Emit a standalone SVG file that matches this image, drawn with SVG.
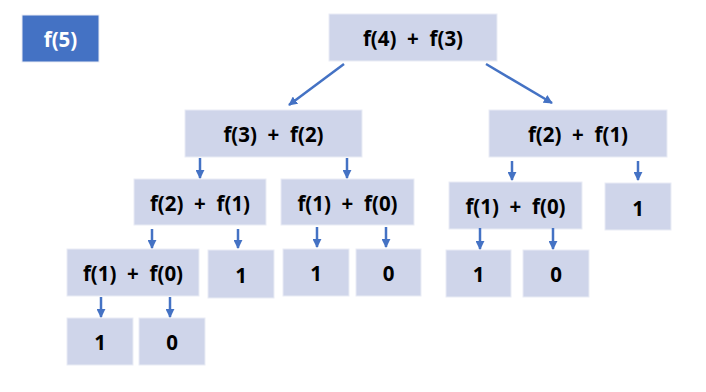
<svg xmlns="http://www.w3.org/2000/svg" width="706" height="392" viewBox="0 0 706 392">
<defs>
<marker id="ah" viewBox="0 0 10 10" refX="9" refY="5" markerUnits="userSpaceOnUse" markerWidth="9" markerHeight="9" orient="auto">
<path d="M0,0 L10,5 L0,10 z" fill="#4472C4"/>
</marker>
<style>
.box{fill:#CFD5EA;stroke:#E9ECF5;stroke-width:1}
.hdr{fill:#4472C4;stroke:#E9ECF5;stroke-width:1}
.t{font-family:"Noto Sans","Open Sans","DejaVu Sans",sans-serif;font-weight:bold;font-size:20.5px;fill:#000;text-anchor:middle;dominant-baseline:central;white-space:pre}
.w{fill:#fff}
.c line{stroke:#4472C4;stroke-width:2.5;marker-end:url(#ah)}
</style>
</defs>
<rect width="706" height="392" fill="#fff"/>
<g id="n-f5"><rect class="hdr" x="22" y="15" width="77" height="47"/><text class="t w" x="60.5" y="39">f(5)</text></g>
<g id="n-root"><rect class="box" x="329" y="14" width="168" height="47"/><text class="t" x="413" y="38">f(4)  +  f(3)</text></g>
<g id="n-f3f2"><rect class="box" x="185" y="110" width="177" height="47"/><text class="t" x="273.5" y="134">f(3)  +  f(2)</text></g>
<g id="n-f2f1r"><rect class="box" x="489" y="110" width="178" height="47"/><text class="t" x="578" y="134">f(2)  +  f(1)</text></g>
<g id="n-f2f1l"><rect class="box" x="134" y="179" width="132" height="46"/><text class="t" x="200" y="203">f(2)  +  f(1)</text></g>
<g id="n-f1f0m"><rect class="box" x="281" y="179" width="133" height="46"/><text class="t" x="347.5" y="203">f(1)  +  f(0)</text></g>
<g id="n-f1f0r"><rect class="box" x="449" y="182" width="133" height="47"/><text class="t" x="515.5" y="206">f(1)  +  f(0)</text></g>
<g id="n-1r"><rect class="box" x="605" y="183" width="66" height="47"/><text class="t" x="638" y="208">1</text></g>
<g id="n-f1f0l"><rect class="box" x="67" y="249" width="132" height="47"/><text class="t" x="133" y="273">f(1)  +  f(0)</text></g>
<g id="n-1a"><rect class="box" x="208" y="250" width="66" height="48"/><text class="t" x="241" y="275">1</text></g>
<g id="n-1b"><rect class="box" x="283" y="249" width="66" height="47"/><text class="t" x="316" y="273">1</text></g>
<g id="n-0b"><rect class="box" x="356" y="249" width="65" height="47"/><text class="t" x="388.5" y="273">0</text></g>
<g id="n-1c"><rect class="box" x="446" y="250" width="65" height="47"/><text class="t" x="478.5" y="274">1</text></g>
<g id="n-0c"><rect class="box" x="523" y="250" width="66" height="47"/><text class="t" x="556" y="274">0</text></g>
<g id="n-1d"><rect class="box" x="67" y="318" width="66" height="47"/><text class="t" x="100" y="342">1</text></g>
<g id="n-0d"><rect class="box" x="139" y="318" width="66" height="47"/><text class="t" x="172" y="342">0</text></g>
<g id="connectors" class="c">
<line x1="344" y1="64" x2="289" y2="105"/>
<line x1="486" y1="64" x2="552" y2="103"/>
<line x1="200" y1="158" x2="200" y2="178"/>
<line x1="347" y1="158" x2="347" y2="178"/>
<line x1="512" y1="161" x2="512" y2="180"/>
<line x1="638" y1="161" x2="638" y2="180"/>
<line x1="152" y1="229" x2="152" y2="248"/>
<line x1="238" y1="229" x2="238" y2="248"/>
<line x1="317" y1="227" x2="317" y2="247"/>
<line x1="386" y1="227" x2="386" y2="247"/>
<line x1="480" y1="228" x2="480" y2="249"/>
<line x1="553" y1="228" x2="553" y2="249"/>
<line x1="101" y1="297" x2="101" y2="317"/>
<line x1="170" y1="297" x2="170" y2="317"/>
</g>
</svg>
